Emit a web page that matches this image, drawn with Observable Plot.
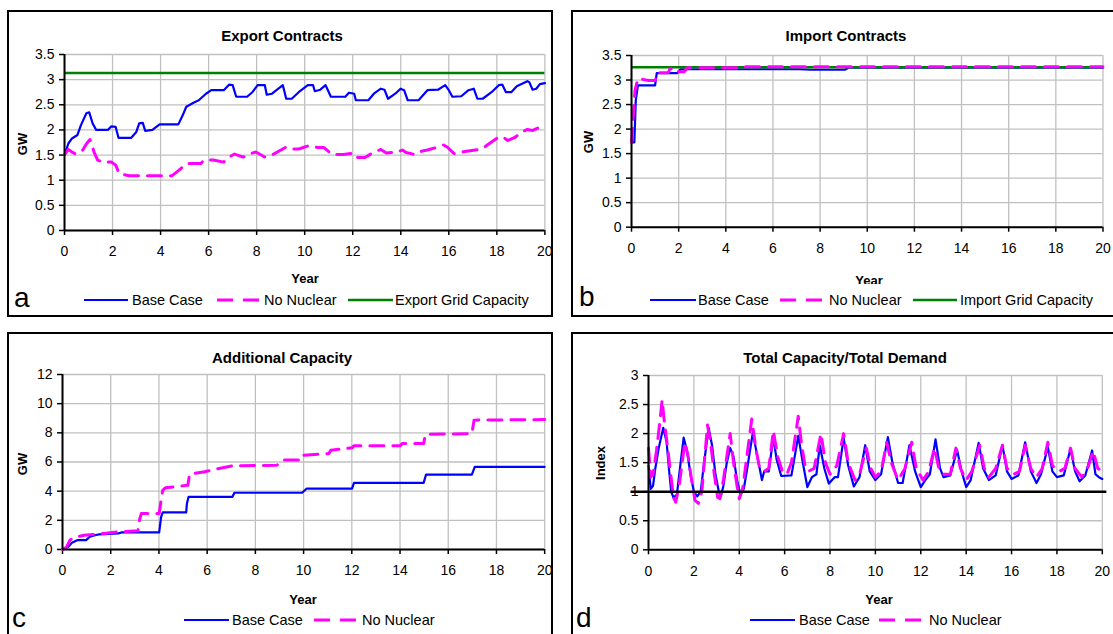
<!DOCTYPE html>
<html><head><meta charset="utf-8">
<script src="https://cdn.jsdelivr.net/npm/d3@7"></script>
<script src="https://cdn.jsdelivr.net/npm/@observablehq/plot@0.6"></script>
<style>
html,body{margin:0;padding:0;width:1113px;height:634px;overflow:hidden;background:#fff;font-family:"Liberation Sans",Arial,sans-serif;color:#000;}
.box{position:absolute;border:2.5px solid #000;box-sizing:border-box;}
.title{position:absolute;font-weight:bold;font-size:15px;transform:translate(-50%,-50%);white-space:nowrap;}
.ylab{position:absolute;font-weight:bold;font-size:13px;transform:translate(-50%,-50%) rotate(-90deg);white-space:nowrap;}
.xlab{position:absolute;font-weight:bold;font-size:13px;transform:translate(-50%,-50%);white-space:nowrap;}
.leg{position:absolute;font-size:14.5px;white-space:nowrap;transform:translateY(-50%);}
.letter{position:absolute;font-size:28px;line-height:28px;}
.plotwrap{position:absolute;}
.plotwrap svg{max-width:none !important;}
.legbg{position:absolute;background:#fff;}
</style></head>
<body>
<script>
// ---------- DATA ----------
const yearTicks = [0,2,4,6,8,10,12,14,16,18,20];
const contractTicks = [0,0.5,1,1.5,2,2.5,3,3.5];
const capacityTicks = [0,2,4,6,8,10,12];
const indexTicks = [0,0.5,1,1.5,2,2.5,3];

// a: Export Contracts (year, GW)
const exportBase = [[0,1.5],[0.16,1.73],[0.31,1.83],[0.54,1.9],[0.68,2.09],[0.91,2.33],[1.03,2.35],[1.17,2.13],[1.32,2.0],[1.8,2.0],[1.95,2.07],[2.13,2.06],[2.25,1.84],[2.77,1.84],[2.99,1.96],[3.11,2.13],[3.26,2.14],[3.36,1.98],[3.66,2.0],[3.96,2.11],[4.74,2.11],[4.92,2.29],[5.07,2.46],[5.37,2.54],[5.59,2.59],[5.89,2.72],[6.11,2.79],[6.63,2.79],[6.85,2.9],[7.0,2.89],[7.15,2.66],[7.6,2.66],[7.82,2.75],[8.04,2.89],[8.34,2.89],[8.42,2.7],[8.64,2.72],[9.09,2.89],[9.23,2.62],[9.46,2.62],[9.75,2.75],[10.13,2.89],[10.35,2.89],[10.42,2.77],[10.65,2.8],[10.87,2.89],[11.09,2.66],[11.69,2.66],[11.84,2.74],[12.06,2.72],[12.13,2.59],[12.65,2.59],[12.88,2.72],[13.17,2.82],[13.32,2.8],[13.47,2.62],[13.77,2.72],[13.99,2.82],[14.14,2.79],[14.29,2.59],[14.74,2.59],[15.11,2.79],[15.55,2.8],[15.85,2.89],[16.0,2.79],[16.15,2.66],[16.52,2.67],[16.82,2.79],[17.04,2.82],[17.19,2.62],[17.41,2.62],[17.78,2.75],[18.08,2.89],[18.23,2.9],[18.38,2.75],[18.6,2.75],[18.83,2.87],[19.27,2.97],[19.35,2.95],[19.49,2.8],[19.64,2.82],[19.79,2.91],[20,2.93]];
const exportNoNuclear = [[0,1.51],[0.16,1.61],[0.31,1.56],[0.46,1.52],[0.76,1.6],[0.91,1.72],[1.06,1.81],[1.23,1.56],[1.38,1.4],[1.58,1.36],[1.95,1.36],[2.13,1.3],[2.28,1.13],[2.69,1.09],[4.48,1.09],[4.77,1.2],[5.07,1.33],[5.67,1.33],[5.81,1.4],[6.19,1.4],[6.63,1.36],[6.85,1.46],[7.08,1.52],[7.45,1.46],[7.67,1.52],[7.97,1.56],[8.34,1.46],[8.64,1.5],[8.86,1.56],[9.23,1.66],[9.46,1.62],[9.75,1.62],[10.13,1.68],[10.57,1.65],[10.8,1.65],[11.02,1.56],[11.17,1.51],[11.61,1.51],[12.06,1.54],[12.21,1.45],[12.51,1.45],[12.88,1.56],[13.17,1.61],[13.4,1.54],[13.84,1.56],[14.07,1.6],[14.22,1.55],[14.59,1.51],[14.89,1.58],[15.11,1.6],[15.55,1.66],[15.78,1.7],[15.93,1.66],[16.22,1.53],[16.52,1.56],[16.82,1.58],[17.26,1.61],[17.49,1.66],[17.78,1.76],[18.08,1.86],[18.31,1.84],[18.46,1.79],[18.75,1.85],[19.05,1.96],[19.27,2.01],[19.49,1.99],[19.72,2.04],[20,2.09]];
const exportGridCapacity = [3.13];

// b: Import Contracts (year, GW)
const importBase = [[0,1.73],[0.12,1.73],[0.18,2.58],[0.27,2.89],[1.0,2.89],[1.07,3.14],[1.93,3.14],[2.08,3.22],[7.1,3.22],[7.6,3.21],[9.05,3.21],[9.2,3.25],[20,3.25]];
const importNoNuclear = [[0,1.73],[0.07,2.24],[0.15,2.79],[0.27,3.03],[0.74,2.99],[1.0,2.99],[1.11,3.15],[1.56,3.15],[1.63,3.23],[1.93,3.23],[2.0,3.17],[2.23,3.17],[2.37,3.25],[4.7,3.25],[4.8,3.27],[20,3.27]];
const importGridCapacity = [3.26];

// c: Additional Capacity (year, GW)
const addBase = [[0,0],[0.24,0.18],[0.39,0.46],[0.61,0.64],[0.98,0.64],[1.13,0.87],[1.35,0.98],[1.5,1.03],[2.31,1.1],[2.46,1.17],[4.01,1.17],[4.09,2.24],[4.16,2.54],[5.13,2.54],[5.16,3.15],[5.23,3.61],[7.05,3.61],[7.13,3.89],[9.94,3.89],[10.13,4.18],[12.01,4.18],[12.09,4.57],[14.98,4.57],[15.08,5.14],[16.98,5.14],[17.1,5.67],[20,5.67]];
const addNoNuclear = [[0,0],[0.16,0.14],[0.31,0.64],[0.46,0.82],[0.9,0.98],[1.72,1.1],[2.31,1.21],[3.13,1.28],[3.2,2.08],[3.27,2.47],[4.01,2.47],[4.09,3.38],[4.16,4.07],[4.27,4.23],[5.2,4.41],[5.27,5.17],[5.9,5.33],[6.31,5.49],[7.05,5.74],[8.9,5.78],[9.13,6.13],[9.94,6.13],[10.01,6.47],[11.05,6.58],[11.13,6.81],[12.01,6.97],[12.09,7.11],[14.01,7.11],[14.09,7.27],[14.98,7.27],[15.05,7.89],[16.98,7.95],[17.07,8.87],[20,8.91]];

// d: Total Capacity / Total Demand (year, index)
const ratioBase = [[0,1.45],[0.1,1.05],[0.2,1.1],[0.3,1.4],[0.45,1.75],[0.65,2.1],[0.8,1.85],[0.9,1.4],[1.0,1.0],[1.1,0.9],[1.25,0.95],[1.4,1.45],[1.55,1.93],[1.7,1.7],[1.85,1.3],[2.0,1.0],[2.15,0.92],[2.3,1.0],[2.45,1.5],[2.65,2.1],[2.8,1.8],[2.95,1.3],[3.1,1.0],[3.2,0.94],[3.3,1.1],[3.45,1.5],[3.6,1.75],[3.75,1.6],[3.9,1.2],[4.05,0.95],[4.2,1.05],[4.35,1.4],[4.6,2.02],[4.8,1.6],[5.0,1.2],[5.1,1.35],[5.3,1.35],[5.5,1.93],[5.65,1.55],[5.85,1.27],[6.3,1.28],[6.6,1.96],[6.8,1.5],[7.0,1.08],[7.2,1.25],[7.4,1.3],[7.55,1.8],[7.75,1.4],[7.95,1.14],[8.2,1.25],[8.35,1.25],[8.6,1.92],[8.8,1.45],[9.05,1.09],[9.3,1.25],[9.55,1.8],[9.75,1.35],[10.0,1.2],[10.25,1.3],[10.55,1.94],[10.75,1.5],[11.0,1.15],[11.2,1.15],[11.5,1.8],[11.75,1.35],[12.0,1.08],[12.2,1.2],[12.4,1.3],[12.65,1.9],[12.85,1.4],[13.0,1.25],[13.3,1.28],[13.6,1.72],[13.8,1.35],[14.0,1.08],[14.2,1.2],[14.55,1.84],[14.75,1.4],[15.0,1.2],[15.3,1.28],[15.6,1.8],[15.8,1.35],[16.0,1.22],[16.3,1.28],[16.6,1.85],[16.85,1.35],[17.1,1.15],[17.3,1.3],[17.6,1.77],[17.8,1.35],[18.0,1.25],[18.3,1.28],[18.6,1.74],[18.8,1.35],[19.0,1.18],[19.25,1.28],[19.55,1.71],[19.7,1.3],[19.85,1.25],[20,1.22]];
const ratioNoNuclear = [[0,1.75],[0.1,1.25],[0.2,1.3],[0.35,1.7],[0.5,2.2],[0.6,2.58],[0.7,2.2],[0.8,1.9],[0.95,1.4],[1.1,0.9],[1.2,0.82],[1.35,1.1],[1.6,1.85],[1.75,1.6],[1.9,1.2],[2.05,0.85],[2.2,0.8],[2.35,1.0],[2.6,2.15],[2.75,1.8],[2.9,1.3],[3.05,0.9],[3.15,0.88],[3.3,1.2],[3.6,2.0],[3.75,1.5],[3.9,1.1],[4.0,0.88],[4.15,1.05],[4.3,1.5],[4.55,2.25],[4.75,1.7],[4.9,1.4],[5.1,1.35],[5.3,1.4],[5.5,2.05],[5.7,1.6],[5.9,1.35],[6.1,1.3],[6.3,1.5],[6.6,2.3],[6.75,1.8],[6.9,1.45],[7.05,1.35],[7.3,1.4],[7.6,2.0],[7.8,1.5],[8.0,1.3],[8.3,1.45],[8.6,2.0],[8.8,1.5],[9.1,1.2],[9.3,1.3],[9.6,1.75],[9.8,1.4],[10.0,1.25],[10.25,1.35],[10.5,1.85],[10.7,1.5],[11.0,1.2],[11.3,1.4],[11.6,1.85],[11.8,1.4],[12.1,1.2],[12.35,1.35],[12.6,1.75],[12.8,1.4],[13.0,1.3],[13.3,1.3],[13.55,1.75],[13.75,1.4],[14.0,1.2],[14.25,1.35],[14.6,1.8],[14.8,1.4],[15.0,1.25],[15.3,1.4],[15.6,1.8],[15.8,1.4],[16.1,1.3],[16.35,1.35],[16.6,1.8],[16.85,1.4],[17.1,1.25],[17.35,1.4],[17.6,1.85],[17.8,1.45],[18.1,1.35],[18.35,1.4],[18.6,1.75],[18.8,1.4],[19.1,1.25],[19.35,1.4],[19.6,1.7],[19.8,1.4],[20,1.35]];
const parityLine = [1];

// ---------- STYLES ----------
const BLUE = "#0000ff", MAGENTA = "#ff00ff", GREEN = "#008000";
const baseStyle = {stroke: BLUE, strokeWidth: 2.2, strokeLinejoin: "round"};
const nnStyle = {stroke: MAGENTA, strokeWidth: 3, strokeDasharray: "14,9"};
const gridStyle = {stroke: GREEN, strokeWidth: 2.5};
const X = d => d[0], Y = d => d[1];

function add(html) { document.body.insertAdjacentHTML("beforeend", html); }

function panel(cfg, lines) {
  const mL = 45, mR = 14, mT = 10, mB = 38;
  const fw = cfg.fr - cfg.fl, fh = cfg.fb - cfg.ft;
  const ext = cfg.extra || [];
  const W = fw + mL + mR, H = fh + mT + mB;
  const p = Plot.plot({
    width: W, height: H,
    marginLeft: mL, marginRight: mR, marginTop: mT, marginBottom: mB,
    x: {domain: [0, 20]},
    y: {domain: cfg.yDomain},
    style: {fontFamily: '"Liberation Sans", Arial, sans-serif', fontSize: "14px", color: "#000", background: "none", overflow: "visible", maxWidth: "none"},
    marks: [
      Plot.gridX({ticks: yearTicks, stroke: "#c0c0c0", strokeOpacity: 1, strokeWidth: 1.3}),
      Plot.gridY({ticks: cfg.yTicks, stroke: "#c0c0c0", strokeOpacity: 1, strokeWidth: 1.3}),
      Plot.axisX({ticks: yearTicks, tickSize: 5, tickPadding: 11, strokeWidth: 1.5, label: null, tickFormat: d => String(d), fontSize: 14}),
      Plot.axisY({ticks: cfg.yTicks, tickSize: 5, tickPadding: 5, strokeWidth: 1.5, label: null, tickFormat: d => String(d), fontSize: 14}),
      ...lines,
      Plot.ruleX([0], {stroke: "#000", strokeWidth: 2}),
      Plot.ruleY([cfg.yDomain[0]], {stroke: "#000", strokeWidth: 2}),
      ...ext
    ]
  });
  p.style.maxWidth = "none";
  const w = document.createElement("div");
  w.className = "plotwrap";
  w.style.left = (cfg.fl - mL) + "px";
  w.style.top = (cfg.ft - mT) + "px";
  w.style.width = W + "px";
  w.style.height = H + "px";
  w.appendChild(p);
  document.body.appendChild(w);
}

// frames
add('<div class="box" style="left:7px;top:10px;width:546px;height:307px"></div>');
add('<div class="box" style="left:571px;top:10px;width:600px;height:307px"></div>');
add('<div class="box" style="left:7px;top:332px;width:546px;height:340px"></div>');
add('<div class="box" style="left:571px;top:332px;width:600px;height:340px"></div>');

// panel a
panel({fl: 63.9, fr: 544.3, ft: 54.3, fb: 230.3, yDomain: [0, 3.5], yTicks: contractTicks}, [
  Plot.ruleY(exportGridCapacity, gridStyle),
  Plot.line(exportBase, {x: X, y: Y, ...baseStyle}),
  Plot.line(exportNoNuclear, {x: X, y: Y, ...nnStyle})
]);
// panel b
panel({fl: 630.5, fr: 1102, ft: 55, fb: 226.7, yDomain: [0, 3.5], yTicks: contractTicks}, [
  Plot.line(importBase, {x: X, y: Y, ...baseStyle}),
  Plot.ruleY(importGridCapacity, gridStyle),
  Plot.line(importNoNuclear, {x: X, y: Y, ...nnStyle})
]);
// panel c
panel({fl: 62.1, fr: 544.3, ft: 374.3, fb: 549.3, yDomain: [0, 12], yTicks: capacityTicks}, [
  Plot.line(addBase, {x: X, y: Y, ...baseStyle}),
  Plot.line(addNoNuclear, {x: X, y: Y, ...nnStyle})
]);
// panel d
panel({fl: 648.2, fr: 1102, ft: 375, fb: 549.3, yDomain: [0, 3], yTicks: indexTicks,
  extra: [Plot.ruleY(parityLine, {x1: -0.77, x2: 20.2, stroke: "#000", strokeWidth: 2.5})]}, [
  Plot.line(ratioBase, {x: X, y: Y, ...baseStyle}),
  Plot.line(ratioNoNuclear, {x: X, y: Y, ...nnStyle})
]);

// titles and axis labels
add('<div class="title" style="left:282px;top:35px">Export Contracts</div>');
add('<div class="title" style="left:846px;top:35px">Import Contracts</div>');
add('<div class="title" style="left:282px;top:357px">Additional Capacity</div>');
add('<div class="title" style="left:845px;top:357px">Total Capacity/Total Demand</div>');
add('<div class="ylab" style="left:22px;top:144px">GW</div>');
add('<div class="ylab" style="left:588px;top:142px">GW</div>');
add('<div class="ylab" style="left:22px;top:464px">GW</div>');
add('<div class="ylab" style="left:600px;top:463px">Index</div>');
add('<div class="xlab" style="left:305px;top:278px">Year</div>');
add('<div class="xlab" style="left:869px;top:280px">Year</div>');
add('<div class="xlab" style="left:303px;top:599px">Year</div>');
add('<div class="xlab" style="left:879px;top:599px">Year</div>');

// legends
add('<div class="legbg" style="left:640px;top:284px;width:470px;height:30px"></div>');
const legendRows = [
  {y: 300, items: [[84,128,132,"Base Case","b"],[217,259,264,"No Nuclear","n"],[348,393,395,"Export Grid Capacity","g"]]},
  {y: 300, items: [[650,696,698,"Base Case","b"],[780,825,829,"No Nuclear","n"],[913,957,960,"Import Grid Capacity","g"]]},
  {y: 620, items: [[184,229,232,"Base Case","b"],[314,359,362,"No Nuclear","n"]]},
  {y: 620, items: [[750,795,799,"Base Case","b"],[879,924,929,"No Nuclear","n"]]}
];
let svgL = '<svg style="position:absolute;left:0;top:0" width="1113" height="634">';
for (const row of legendRows) for (const [x0, x1, tx, name, k] of row.items) {
  const st = k === "b" ? `stroke="${BLUE}" stroke-width="2"` : k === "n" ? `stroke="${MAGENTA}" stroke-width="3" stroke-dasharray="16,10"` : `stroke="${GREEN}" stroke-width="2.5"`;
  svgL += `<line x1="${x0}" x2="${x1}" y1="${row.y}" y2="${row.y}" ${st}/>`;
}
svgL += '</svg>';
add(svgL);
for (const row of legendRows) for (const [x0, x1, tx, name] of row.items) {
  add(`<div class="leg" style="left:${tx}px;top:${row.y}px">${name}</div>`);
}

// panel letters (top = baseline - 23.7)
add('<div class="letter" style="left:14px;top:284px">a</div>');
add('<div class="letter" style="left:579px;top:283px">b</div>');
add('<div class="letter" style="left:12px;top:604px">c</div>');
add('<div class="letter" style="left:576px;top:604px">d</div>');
</script>
</body></html>
